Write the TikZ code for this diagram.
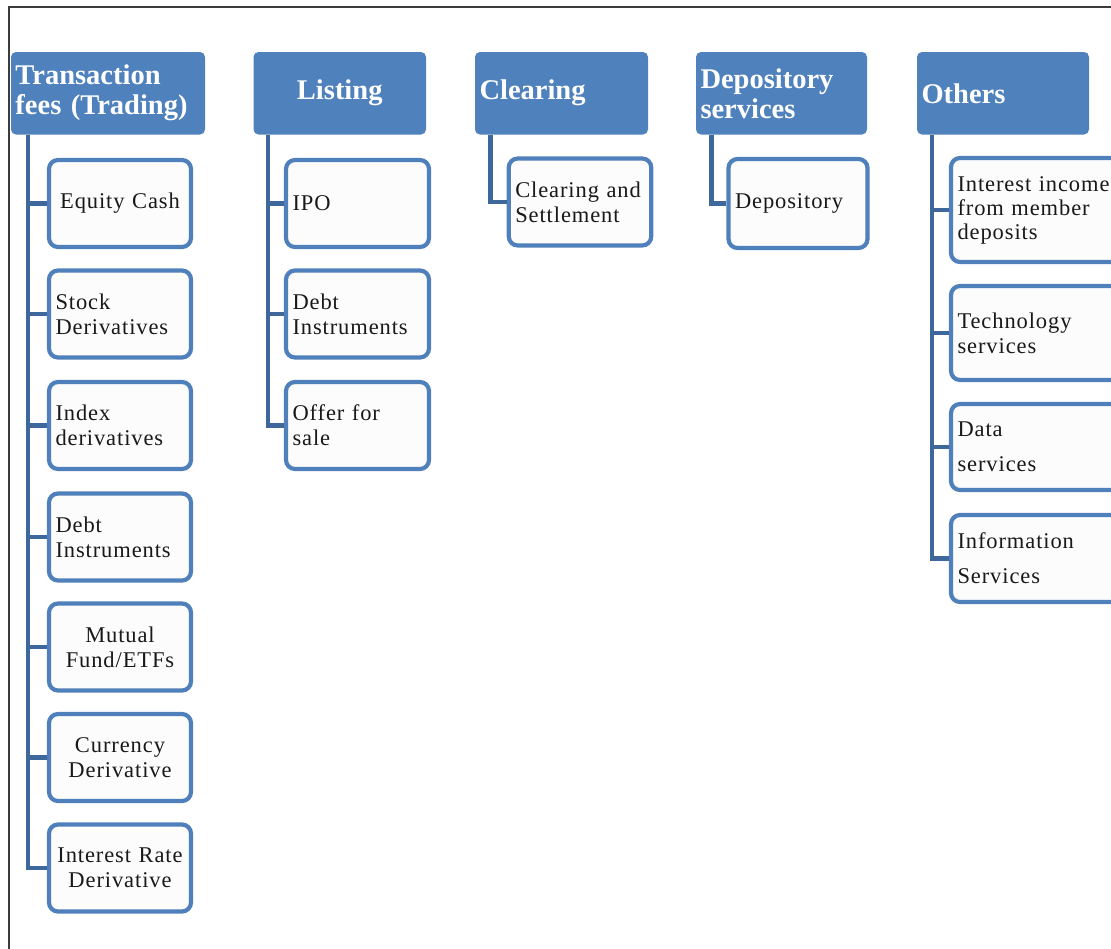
\documentclass[tikz,border=0pt]{standalone}
\usepackage{fontspec}
\setmainfont{Liberation Serif}
\newfontfamily\kidfont[LetterSpace=4]{Liberation Serif}
\definecolor{hblue}{RGB}{79,129,189}
\definecolor{kblue}{RGB}{80,128,188}
\definecolor{cblue}{RGB}{62,104,156}
\definecolor{kfill}{RGB}{252,252,252}
\definecolor{framec}{RGB}{60,60,60}
\begin{document}
\begin{tikzpicture}[x=1pt,y=-1pt,
 hdr/.style={fill=hblue, rounded corners=5pt, minimum height=82.5pt, inner xsep=4.5pt, inner ysep=0pt,
   text=white, font=\fontsize{28.5}{30}\selectfont\bfseries, align=left},
 kid/.style={draw=kblue, line width=4.2pt, fill=kfill, rounded corners=9pt, inner xsep=6.5pt, inner ysep=0pt,
   text=black!90, font=\kidfont\fontsize{22.5}{25}\selectfont, minimum height=87pt},
 c1/.style={kid, minimum width=142pt, text width=129pt},
 c2/.style={kid, minimum width=143pt, text width=130pt},
 c5/.style={kid, minimum width=180pt, text width=167pt, align=left},
 conn/.style={draw=cblue, line width=4.5pt, line join=miter}
]
\useasboundingbox (0,0) rectangle (1111,948);
\draw[framec, line width=2pt] (9,960) -- (9,7) -- (1120,7);

% headers
\node[hdr, minimum width=194pt, text width=185pt] (T) at (108,93.25) {Transaction\\fees (Trading)};
\node[hdr, minimum width=172.5pt, text width=163.5pt, align=center] (L) at (339.75,93.25) {Listing};
\node[hdr, minimum width=173pt, text width=164pt] (C) at (561.5,93.25) {Clearing};
\node[hdr, minimum width=171pt, text width=162pt] (D) at (781.5,93.25) {Depository\\services};
\node[hdr, minimum width=172pt, text width=163pt] (O) at (1003,93.25) {Others};

% column 1
\node[c1, align=center] (t1) at (120,203.5) {Equity Cash};
\node[c1, align=left] (t2) at (120,314) {Stock\\Derivatives};
\node[c1, align=left] (t3) at (120,425.5) {Index\\derivatives};
\node[c1, align=left] (t4) at (120,537) {Debt\\Instruments};
\node[c1, align=center] (t5) at (120,647) {Mutual\\Fund/ETFs};
\node[c1, align=center] (t6) at (120,757.5) {Currency\\Derivative};
\node[c1, align=center] (t7) at (120,868) {Interest Rate\\Derivative};

% column 2
\node[c2, align=left] (l1) at (357.5,203.5) {IPO};
\node[c2, align=left] (l2) at (357.5,314) {Debt\\Instruments};
\node[c2, align=left] (l3) at (357.5,425.5) {Offer for\\sale};

% column 3
\node[kid, minimum width=142.5pt, text width=129.5pt, align=left] (k1) at (580,202) {Clearing and\\Settlement};

% column 4
\node[kid, minimum width=139pt, minimum height=89pt, text width=126pt, align=left] (d1) at (798,203.5) {Depository};

% column 5
\node[c5, minimum height=104pt, font=\kidfont\fontsize{22.5}{24}\selectfont] (o1) at (1041,210) {Interest income\\from member\\deposits};
\node[c5, minimum height=94pt] (o2) at (1041,333) {Technology\\services};
\node[c5, minimum height=86pt, font=\kidfont\fontsize{22.5}{35}\selectfont] (o3) at (1041,447) {Data\\services};
\node[c5, minimum height=87pt, font=\kidfont\fontsize{22.5}{35}\selectfont] (o4) at (1041,558.5) {Information\\Services};

% connectors
\foreach \k in {t1,t2,t3,t4,t5,t6,t7}{\draw[conn] ([xshift=17pt]T.south west) |- (\k.west);}
\foreach \k in {l1,l2,l3}{\draw[conn] ([xshift=14.5pt]L.south west) |- (\k.west);}
\draw[conn] ([xshift=15.5pt]C.south west) |- (k1.west);
\draw[conn] ([xshift=15.5pt]D.south west) |- (d1.west);
\foreach \k in {o1,o2,o3,o4}{\draw[conn] ([xshift=15pt]O.south west) |- (\k.west);}
\end{tikzpicture}
\end{document}
